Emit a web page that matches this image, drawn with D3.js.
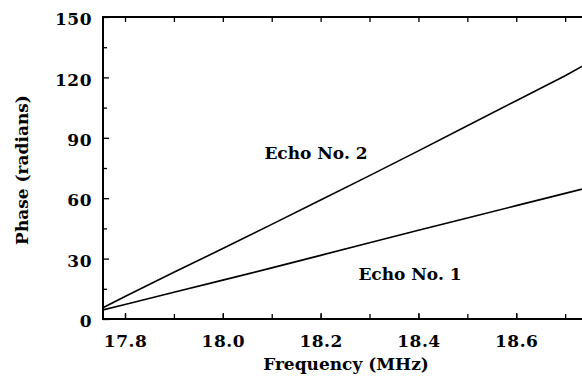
<!DOCTYPE html>
<html>
<head>
<meta charset="utf-8">
<script src="https://cdn.jsdelivr.net/npm/d3@7"></script>
<style>
  html, body { margin: 0; padding: 0; background: #fff; }
  svg { display: block; }
  text { font-family: "DejaVu Serif", "Liberation Serif", serif; font-weight: bold; fill: #000; }
</style>
</head>
<body>
<svg id="chart" width="582" height="377"></svg>
<script>
// ---- data ----
const frequency = [17.755, 17.8, 17.9, 18.0, 18.1, 18.2, 18.3, 18.4, 18.5, 18.6, 18.7, 18.75];
const echo2 = [5.6, 11.2, 23.2, 35.0, 47.0, 59.1, 71.2, 83.5, 96.0, 108.4, 120.8, 127.6];
const echo1 = [4.5, 7.2, 13.3, 19.3, 25.4, 31.6, 37.9, 44.1, 50.2, 56.3, 62.4, 65.5];
const xTicks = [17.8, 18.0, 18.2, 18.4, 18.6];
const xMinorTicks = [17.8, 17.9, 18.0, 18.1, 18.2, 18.3, 18.4, 18.5, 18.6, 18.7];
const yTicks = [0, 30, 60, 90, 120, 150];
const yMinorTicks = [15, 45, 75, 105, 135];
const seriesLabels = ["Echo No. 2", "Echo No. 1"];
const xTitle = "Frequency (MHz)";
const yTitle = "Phase (radians)";

// ---- layout ----
const pL = 103, pR = 589.6, pT = 17, pB = 319;
const svg = d3.select("#chart");
const x = d3.scaleLinear().domain([17.755, 18.75]).range([pL, pR]);
const y = d3.scaleLinear().domain([0, 150]).range([pB, pT]);

// frame
svg.append("rect")
  .attr("x", pL).attr("y", pT)
  .attr("width", pR - pL).attr("height", pB - pT)
  .attr("fill", "none").attr("stroke", "#000").attr("stroke-width", 2);

function styleAxis(g) {
  g.select(".domain").remove();
  g.selectAll("line").attr("stroke", "#000").attr("stroke-width", 1.3);
  return g;
}
// bottom axis major with labels
const bottomAxis = svg.append("g").attr("transform", `translate(0,${pB})`)
  .call(d3.axisBottom(x).tickValues(xTicks).tickSize(-6).tickPadding(16).tickFormat(d3.format(".1f")));
styleAxis(bottomAxis);
bottomAxis.selectAll("text").attr("font-size", 17).attr("font-family", "DejaVu Serif").attr("font-weight", "bold")
  .attr("letter-spacing", 0.5);
// bottom minor
styleAxis(svg.append("g").attr("transform", `translate(0,${pB})`)
  .call(d3.axisBottom(x).tickValues(xMinorTicks).tickSize(-5).tickFormat("")));
// top ticks
styleAxis(svg.append("g").attr("transform", `translate(0,${pT})`)
  .call(d3.axisTop(x).tickValues(xMinorTicks).tickSize(-5).tickFormat("")));

// left axis
const leftAxis = svg.append("g").attr("transform", `translate(${pL},0)`)
  .call(d3.axisLeft(y).tickValues(yTicks).tickSize(-6).tickPadding(11).tickFormat(d3.format("d")));
styleAxis(leftAxis);
leftAxis.selectAll("text").attr("font-size", 17).attr("font-family", "DejaVu Serif").attr("font-weight", "bold")
  .attr("letter-spacing", 0.5).attr("dy", "0.45em");
styleAxis(svg.append("g").attr("transform", `translate(${pL},0)`)
  .call(d3.axisLeft(y).tickValues(yMinorTicks).tickSize(-4).tickFormat("")));

// lines
svg.append("clipPath").attr("id", "clip").append("rect")
  .attr("x", pL).attr("y", pT).attr("width", pR - pL).attr("height", pB - pT);
const line = d3.line().x((d, i) => x(frequency[i])).y(d => y(d));
[echo2, echo1].forEach(s => {
  svg.append("path").datum(s)
    .attr("d", line)
    .attr("fill", "none").attr("stroke", "#000").attr("stroke-width", 1.6)
    .attr("clip-path", "url(#clip)");
});

// series labels
svg.append("text").attr("x", 316).attr("y", 159).attr("text-anchor", "middle")
  .attr("font-size", 17).text(seriesLabels[0]);
svg.append("text").attr("x", 410).attr("y", 280).attr("text-anchor", "middle")
  .attr("font-size", 17).text(seriesLabels[1]);

// axis titles
svg.append("text").attr("x", 346).attr("y", 370).attr("text-anchor", "middle")
  .attr("font-size", 17).text(xTitle);
svg.append("text")
  .attr("transform", `translate(28,170) rotate(-90)`)
  .attr("text-anchor", "middle").attr("font-size", 17).text(yTitle);
</script>
</body>
</html>
